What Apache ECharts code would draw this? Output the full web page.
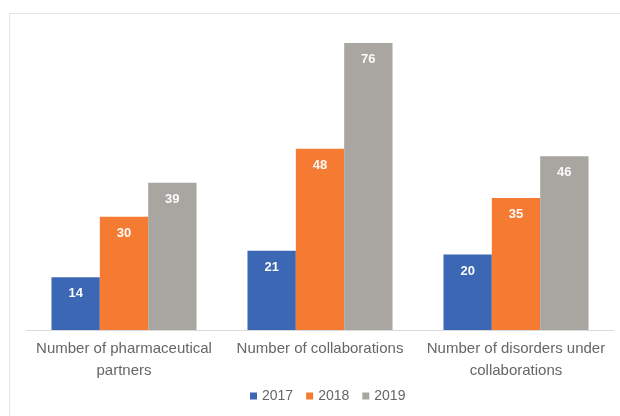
<!DOCTYPE html>
<html>
<head>
<meta charset="utf-8">
<script src="https://cdn.jsdelivr.net/npm/echarts@6/dist/echarts.min.js"></script>
<style>html,body{margin:0;padding:0;background:#fff;}#c{width:620px;height:416px;}</style>
</head>
<body>
<div id="c"></div>
<script>
var categories = ["Number of pharmaceutical\npartners", "Number of collaborations", "Number of disorders under\ncollaborations"];
var seriesNames = ["2017", "2018", "2019"];
var values2017 = [14, 21, 20];
var values2018 = [30, 48, 35];
var values2019 = [39, 76, 46];
var colors = ["#3c67b4", "#f47b31", "#a9a6a2"];

var chart = echarts.init(document.getElementById('c'), null, {renderer: 'canvas'});
var font = "'Liberation Sans', Arial, sans-serif";
function mk(name, data, color) {
  return {
    name: name, type: 'bar', data: data, barGap: '0%', barCategoryGap: '26%',
    itemStyle: {color: color},
    label: {show: true, position: 'insideTop', distance: 10, color: '#fafafa', fontWeight: 'bold', fontSize: 13, fontFamily: font},
    emphasis: {disabled: true}
  };
}
chart.setOption({
  animation: false,
  backgroundColor: '#fff',
  graphic: [{type: 'rect', shape: {x: 9.5, y: 13.5, width: 700, height: 500}, style: {fill: 'none', stroke: '#e4e4e4', lineWidth: 1}, silent: true}],
  grid: {left: 26, right: 6, top: 28, bottom: 86},
  legend: {
    data: seriesNames, bottom: 8, left: 245, icon: 'rect', itemWidth: 7, itemHeight: 7, itemGap: 13,
    textStyle: {color: '#666666', fontSize: 14, fontFamily: font}
  },
  xAxis: {
    type: 'category', data: categories,
    axisLine: {lineStyle: {color: '#d9d9d9'}}, axisTick: {show: false},
    axisLabel: {color: '#666666', fontSize: 15, fontFamily: font, lineHeight: 22, margin: 8, interval: 0}
  },
  yAxis: {type: 'value', min: 0, max: 80, show: false, splitLine: {show: false}},
  series: [mk(seriesNames[0], values2017, colors[0]), mk(seriesNames[1], values2018, colors[1]), mk(seriesNames[2], values2019, colors[2])]
});
</script>
</body>
</html>
